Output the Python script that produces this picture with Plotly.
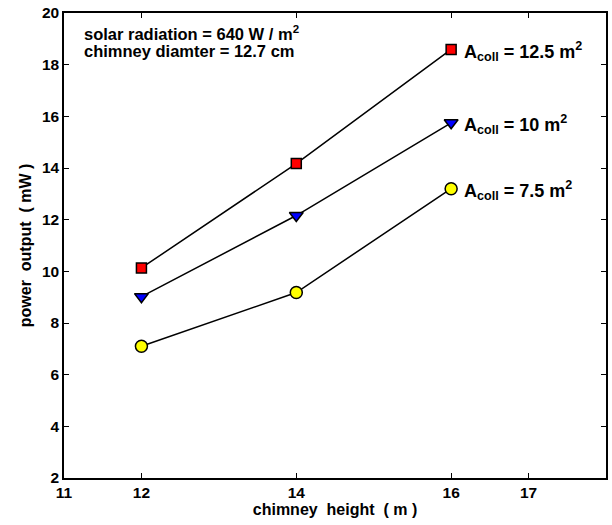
import plotly.graph_objects as go

heights = [12, 14, 16]
p_125 = [10.13, 14.17, 18.59]
p_10 = [9.02, 12.16, 15.75]
p_75 = [7.10, 9.18, 13.20]
labels = ["A<sub>coll</sub> = 12.5 m<sup>2</sup>",
          "A<sub>coll</sub> = 10 m<sup>2</sup>",
          "A<sub>coll</sub> = 7.5 m<sup>2</sup>"]
x_ticks = [11, 12, 14, 16, 17]
y_ticks = [2, 4, 6, 8, 10, 12, 14, 16, 18, 20]

FAM = "Liberation Sans, Arial, sans-serif"

def F(size):
    return dict(family=FAM, size=size, color="black", weight="bold")

fig = go.Figure()
series = [
    (p_125, "square", "red", 10),
    (p_10, "triangle-down", "blue", 12),
    (p_75, "circle", "yellow", 12),
]
for ys, sym, col, sz in series:
    fig.add_trace(go.Scatter(
        x=heights, y=ys, mode="lines+markers",
        line=dict(color="black", width=1.5),
        marker=dict(symbol=sym, color=col, size=sz, line=dict(color="black", width=1.5)),
        showlegend=False,
    ))

for ys, lab in zip([p_125, p_10, p_75], labels):
    fig.add_annotation(x=heights[-1], y=ys[-1], xref="x", yref="y", text=lab,
                       showarrow=False, xanchor="left", yanchor="middle", xshift=11, yshift=-2,
                       font=F(18))

fig.add_annotation(x=0.033, y=0.958, xref="paper", yref="paper",
                   text="solar radiation = 640 W / m<sup>2</sup>", showarrow=False,
                   xanchor="left", yanchor="middle", font=F(16.5))
fig.add_annotation(x=0.033, y=0.918, xref="paper", yref="paper",
                   text="chimney diamter = 12.7 cm", showarrow=False,
                   xanchor="left", yanchor="middle", font=F(16.5))

axis_common = dict(showgrid=False, zeroline=False, showline=True, linecolor="black", linewidth=1.5,
                   mirror="ticks", ticks="inside", ticklen=5, tickcolor="black", tickwidth=1,
                   tickfont=F(15.5))
fig.update_xaxes(range=[11, 18], tickvals=x_ticks, ticktext=[str(v) for v in x_ticks],
                 title=dict(text="chimney  height  ( m )", font=F(16), standoff=2),
                 **axis_common)
fig.update_yaxes(range=[2, 20], tickvals=y_ticks, ticktext=[str(v) for v in y_ticks],
                 title=dict(text="power  output  ( mW )", font=F(16), standoff=6),
                 **axis_common)

fig.update_layout(width=612, height=525, margin=dict(l=64, r=4, t=13, b=47),
                  plot_bgcolor="white", paper_bgcolor="white",
                  font=F(15))
fig.write_html("out.html")
